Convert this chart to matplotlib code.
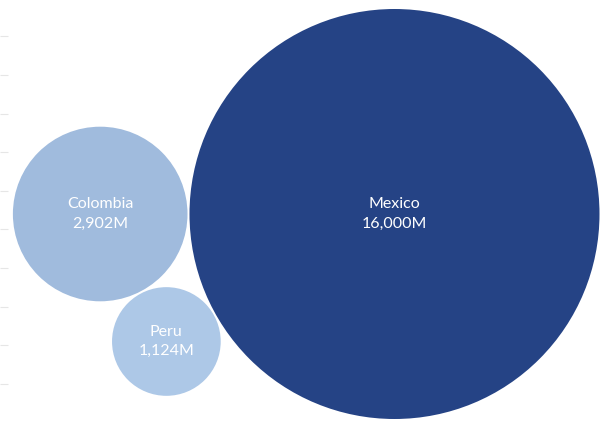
import numpy as np
import matplotlib
matplotlib.use("Agg")
import matplotlib.pyplot as plt
from matplotlib.patches import Circle

# data
countries = ["Mexico", "Colombia", "Peru"]
values = [16000, 2902, 1124]  # millions
colors = ["#254385", "#a0bbdd", "#adc8e7"]

W, H = 600, 422
max_r = 205.0      # radius (px) of the largest bubble
pad = 2.0          # gap between bubbles
anchor = (394.5, 214.0)
grid_y = [36, 75, 114, 152, 191, 229, 268, 307, 345, 384]

radii = [max_r * np.sqrt(v / max(values)) for v in values]

# simple packing: biggest at anchor, second to its left, third under both
cM = np.array(anchor)
cC = cM - np.array([radii[0] + radii[1] + pad, 0.0])
d1 = radii[1] + radii[2] + pad
d2 = radii[0] + radii[2] + pad
D = np.linalg.norm(cM - cC)
a = (d1 ** 2 - d2 ** 2 + D ** 2) / (2 * D)
h = np.sqrt(d1 ** 2 - a ** 2)
u = (cM - cC) / D
cP = cC + a * u + h * np.array([-u[1], u[0]])
centers = [cM, cC, cP]

fig = plt.figure(figsize=(W / 100, H / 100), dpi=100)
ax = fig.add_axes([0, 0, 1, 1])
ax.set_xlim(0, W)
ax.set_ylim(H, 0)
ax.axis("off")

# faint gridline stubs on the left
ax.hlines(grid_y, 0, 8, colors="#e6e6e6", linewidth=0.8)

for name, v, r, c, col in zip(countries, values, radii, centers, colors):
    ax.add_patch(Circle(c, r, facecolor=col, edgecolor="none"))
    ax.text(c[0], c[1] - 9.5, name, color="white", fontsize=11.5,
            family="Lato", ha="center", va="center")
    ax.text(c[0], c[1] + 9.5, f"{v:,}M", color="white", fontsize=11.5,
            family="Lato", ha="center", va="center")

fig.savefig("out.png", dpi=100)
